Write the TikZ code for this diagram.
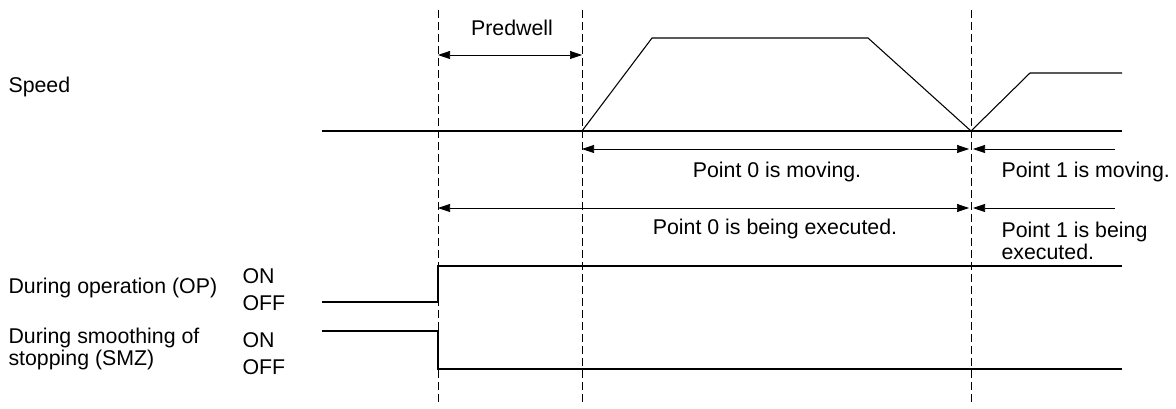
\documentclass[tikz,border=0pt]{standalone}
\usepackage{fontspec}
\setmainfont{Liberation Sans}
\usetikzlibrary{arrows.meta,positioning}
\tikzset{
  every picture/.style={line width=0.8pt, font=\fontsize{16}{16.5}\selectfont},
  lbl/.style={inner sep=0pt, anchor=west, align=left},
  mid/.style={inner sep=0pt, align=center},
  guide/.style={dash pattern=on 6pt off 3pt, line width=0.6pt},
  dim/.style={{Triangle[length=9pt, width=6pt]}-{Triangle[length=9pt, width=6pt]}, line width=0.5pt},
  dimleft/.style={{Triangle[length=9pt, width=6pt]}-, line width=0.5pt},
  axis/.style={line width=1.6pt},
  sig/.style={line width=1.1pt},
}
\begin{document}
\begin{tikzpicture}[x=0.75pt, y=-0.75pt]
\useasboundingbox (0,0) rectangle (1176,409);
\def\xs{322}\def\xa{438}\def\xb{582}\def\xc{971}\def\xe{1122}
% time marks
\foreach \x/\n in {\xa/ga,\xb/gb,\xc/gc} {
  \coordinate (\n top) at (\x,10);
  \coordinate (\n bot) at (\x,402);
  \draw[guide] (\n top) -- (\n bot);
}
% speed
\node[lbl] (speed) at (8,87) {Speed};
\coordinate (s0) at (\xs,131);
\coordinate (s1) at (\xe,131);
\draw[axis] (s0) -- (s1);
\coordinate (p0) at (\xb,131);
\coordinate (p1) at (652,38);
\coordinate (p2) at (868,38);
\coordinate (p3) at (\xc,131);
\coordinate (p4) at (1030,73);
\coordinate (p5) at (\xe,73);
\draw (p0) -- (p1) -- (p2) -- (p3) -- (p4) -- (p5);
% predwell
\coordinate (d0) at (\xa,55);
\coordinate (d1) at (\xb,55);
\draw[dim] (d0) -- (d1);
\node[mid] (predwell) at (512,28) {Predwell};
% moving
\coordinate (m0) at (\xb,149);
\coordinate (m1) at (969,149);
\coordinate (m2) at (973,149);
\coordinate (m3) at (1115,149);
\draw[dim] (m0) -- (m1);
\draw[dimleft] (m2) -- (m3);
\node[mid] (mov0) at (777,172) {Point 0 is moving.};
\node[lbl] (mov1) at (1001,172) {Point 1 is moving.};
% executed
\coordinate (e0) at (\xa,208);
\coordinate (e1) at (969,208);
\coordinate (e2) at (973,208);
\coordinate (e3) at (1115,208);
\draw[dim] (e0) -- (e1);
\draw[dimleft] (e2) -- (e3);
\node[mid] (exe0) at (775,229) {Point 0 is being executed.};
\node[lbl] (exe1) at (1001,241) {Point 1 is being\\executed.};
% during operation
\node[lbl] (op) at (8,288) {During operation (OP)};
\node[lbl] (opon) at (242,276) {ON};
\node[lbl] (opoff) at (242,303) {OFF};
\coordinate (o0) at (\xs,302);
\coordinate (o1) at (\xa,302);
\coordinate (o2) at (\xa,266);
\coordinate (o3) at (\xe,266);
\draw[sig] (o0) -- (o1) -- (o2) -- (o3);
% smoothing of stopping
\node[lbl] (smz) at (8,349) {During smoothing of\\stopping (SMZ)};
\node[lbl] (smzon) at (242,340) {ON};
\node[lbl] (smzoff) at (242,367) {OFF};
\coordinate (z0) at (\xs,331);
\coordinate (z1) at (\xa,331);
\coordinate (z2) at (\xa,369);
\coordinate (z3) at (\xe,369);
\draw[sig] (z0) -- (z1) -- (z2) -- (z3);
\end{tikzpicture}
\end{document}
